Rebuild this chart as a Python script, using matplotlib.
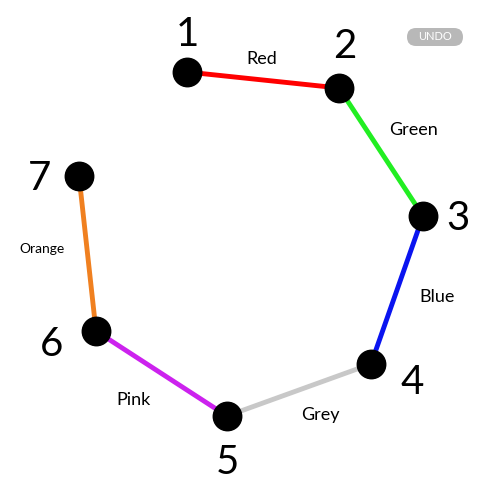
import matplotlib
matplotlib.use("Agg")
import matplotlib.pyplot as plt
from matplotlib.patches import FancyBboxPatch

node_ids = ["1", "2", "3", "4", "5", "6", "7"]
node_x = [187, 339, 423, 371, 227, 96, 79]
node_y = [72, 88, 216, 364, 416, 331, 176]
label_x = [187, 345, 458, 412, 227, 52, 40]
label_y = [35, 47, 218, 382, 462, 345, 178]
edges = [(0, 1), (1, 2), (2, 3), (3, 4), (4, 5), (5, 6)]
edge_names = ["Red", "Green", "Blue", "Grey", "Pink", "Orange"]
edge_colors = ["#ff0000", "#22ee22", "#0a14f0", "#c8c8c8", "#cc22ee", "#f08020"]
edge_lx = [262, 414, 437, 320, 134, 42]
edge_ly = [59, 130, 297, 415, 400, 249]
edge_fs = [13, 13, 13, 13, 13, 10]

plt.rcParams['font.family'] = ['Lato', 'DejaVu Sans']
fig = plt.figure(figsize=(5, 5), dpi=100)
ax = fig.add_axes([0, 0, 1, 1])
ax.set_xlim(0, 500)
ax.set_ylim(500, 0)
ax.axis('off')

for (a, b), c in zip(edges, edge_colors):
    ax.plot([node_x[a], node_x[b]], [node_y[a], node_y[b]], color=c, lw=3.5, zorder=1)
ax.scatter(node_x, node_y, s=420, color='black', zorder=2)
for t, x, y in zip(node_ids, label_x, label_y):
    ax.text(x, y, t, fontsize=29, ha='center', va='center')
for t, x, y, fs in zip(edge_names, edge_lx, edge_ly, edge_fs):
    ax.text(x, y, t, fontsize=fs, ha='center', va='center')

ax.add_patch(FancyBboxPatch((407, 28), 56, 18, boxstyle="round,pad=0,rounding_size=9",
                            facecolor='#b8b8b8', edgecolor='none'))
ax.text(435, 37, "UNDO", fontsize=8, color='white', ha='center', va='center')

fig.savefig("out.png", dpi=100)
